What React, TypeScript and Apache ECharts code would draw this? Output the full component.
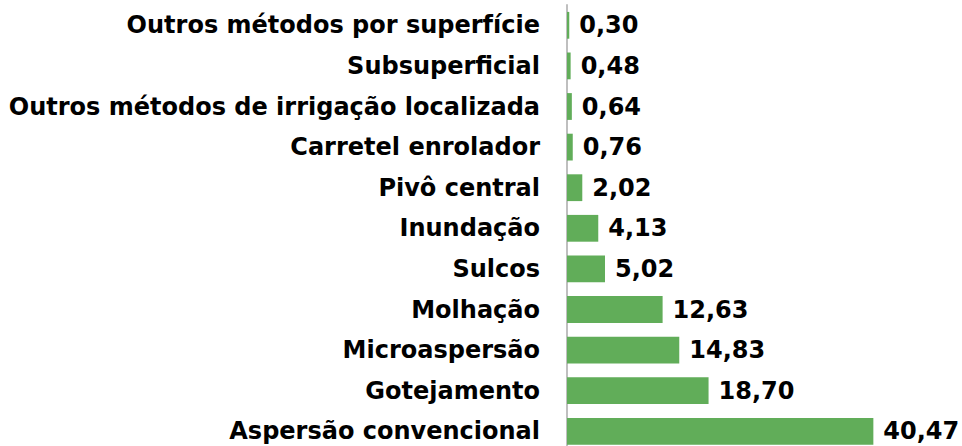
import React, { useEffect, useRef } from "react";
import * as echarts from "echarts";

const categories = [
  "Outros métodos por superfície",
  "Subsuperficial",
  "Outros métodos de irrigação localizada",
  "Carretel enrolador",
  "Pivô central",
  "Inundação",
  "Sulcos",
  "Molhação",
  "Microaspersão",
  "Gotejamento",
  "Aspersão convencional",
];
const values = [0.3, 0.48, 0.64, 0.76, 2.02, 4.13, 5.02, 12.63, 14.83, 18.7, 40.47];

const FONT = "'DejaVu Sans', sans-serif";

export default function App() {
  const ref = useRef<HTMLDivElement>(null);
  useEffect(() => {
    if (!ref.current) return;
    const chart = echarts.init(ref.current, null, { renderer: "svg" });
    chart.setOption({
      animation: false,
      grid: { left: 567, top: 5, width: 378.5, height: 446.6, containLabel: false },
      xAxis: {
        type: "value",
        min: 0,
        max: 50,
        show: false,
        splitLine: { show: false },
      },
      yAxis: {
        type: "category",
        inverse: true,
        data: categories,
        axisLine: { show: true, lineStyle: { color: "#bfbfbf", width: 2 } },
        axisTick: { show: false },
        axisLabel: {
          margin: 27,
          color: "#000",
          fontFamily: FONT,
          fontWeight: "bold",
          fontSize: 24,
        },
      },
      series: [
        {
          type: "bar",
          data: values,
          barWidth: "66%",
          itemStyle: { color: "#61ad59" },
          label: {
            show: true,
            position: "right",
            distance: 10,
            color: "#000",
            fontFamily: FONT,
            fontWeight: "bold",
            fontSize: 24,
            formatter: (p: any) => p.value.toFixed(2).replace(".", ","),
          },
        },
      ],
    });
    return () => chart.dispose();
  }, []);
  return (
    <div style={{ width: 962, height: 446, position: "absolute", left: 0, top: 0, overflow: "hidden" }}>
      <div ref={ref} style={{ width: 962, height: 470 }} />
    </div>
  );
}
